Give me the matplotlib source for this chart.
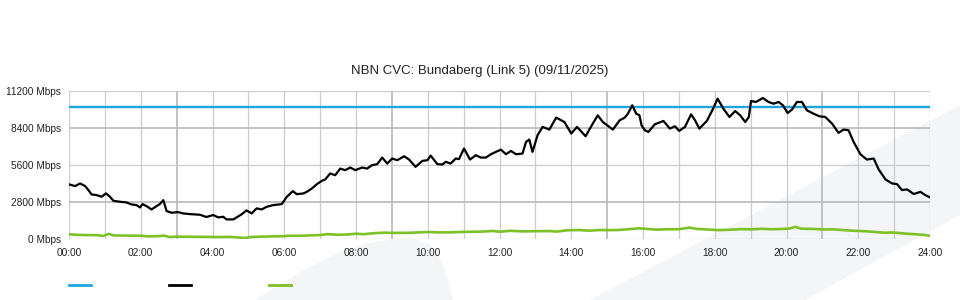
import matplotlib
matplotlib.use("Agg")
import matplotlib.pyplot as plt
from matplotlib.patches import Polygon
from matplotlib.lines import Line2D

plt.rcParams['font.family'] = ['Liberation Sans', 'DejaVu Sans']

# Data (hours since midnight, Mbps)
capacity_mbps = 10000

traffic_hours = [
    0.00, 0.17, 0.31, 0.45, 0.54, 0.63, 0.77, 0.91, 1.03, 1.14, 1.24, 1.42, 1.60, 1.74, 1.88,
    1.98, 2.05, 2.16, 2.30, 2.44, 2.53, 2.63, 2.72, 2.86, 3.04, 3.18, 3.37, 3.65, 3.83, 4.02,
    4.16, 4.30, 4.39, 4.58, 4.67, 4.81, 4.95, 5.09, 5.23, 5.37, 5.51, 5.70, 5.93, 6.07, 6.24,
    6.35, 6.54, 6.63, 6.77, 6.91, 7.05, 7.14, 7.28, 7.42, 7.56, 7.70, 7.84, 7.98, 8.17, 8.31,
    8.45, 8.59, 8.73, 8.87, 9.01, 9.15, 9.34, 9.48, 9.66, 9.85, 9.99, 10.08, 10.27, 10.41, 10.50,
    10.64, 10.78, 10.87, 11.01, 11.18, 11.34, 11.48, 11.62, 11.76, 11.90, 12.04, 12.18, 12.32,
    12.46, 12.64, 12.74, 12.83, 12.92, 13.06, 13.20, 13.39, 13.58, 13.81, 14.00, 14.16, 14.40,
    14.60, 14.74, 14.88, 15.16, 15.35, 15.49, 15.58, 15.70, 15.81, 15.90, 15.96, 16.05, 16.15,
    16.33, 16.57, 16.75, 16.89, 17.01, 17.17, 17.34, 17.45, 17.57, 17.78, 17.94, 18.08, 18.24,
    18.41, 18.57, 18.71, 18.85, 18.95, 19.01, 19.15, 19.34, 19.50, 19.64, 19.78, 19.90, 20.03,
    20.15, 20.29, 20.43, 20.57, 20.75, 20.92, 21.08, 21.27, 21.45, 21.59, 21.73, 21.87, 22.06,
    22.24, 22.43, 22.57, 22.76, 22.94, 23.08, 23.22, 23.36, 23.55, 23.73, 23.87, 24.00,
]
traffic_mbps = [
    4140, 4010, 4210, 4010, 3710, 3380, 3330, 3210, 3460, 3210, 2900, 2830, 2780, 2630, 2580,
    2400, 2650, 2500, 2250, 2500, 2650, 2950, 2130, 2000, 2050, 1950, 1900, 1850, 1680, 1830,
    1650, 1700, 1500, 1500, 1650, 1880, 2180, 1950, 2330, 2250, 2450, 2580, 2650, 3200, 3630,
    3400, 3460, 3580, 3830, 4160, 4410, 4510, 4960, 4830, 5330, 5210, 5410, 5210, 5410, 5330,
    5590, 5660, 6160, 5710, 6090, 5960, 6260, 6010, 5460, 5910, 5960, 6310, 5660, 5640, 5840,
    5710, 6090, 6040, 6840, 6010, 6340, 6160, 6160, 6410, 6590, 6760, 6410, 6660,
    6410, 6460, 7340, 7520, 6590, 7840, 8470, 8270, 9170, 8840, 7970, 8470, 7770,
    8720, 9340, 8840, 8270, 8970, 9170, 9470, 10100, 9470, 9350, 8590, 8220, 8090,
    8670, 8920, 8340, 8520, 8170, 8470, 9420, 8970, 8340, 8920, 9770, 10600, 9850,
    9220, 9670, 9340, 8840, 9220, 10420, 10350, 10650, 10350, 10220, 10350, 10100, 9520,
    9770, 10350, 10350, 9720, 9470, 9270, 9220, 8720, 8020, 8270, 8220, 7340, 6410,
    6010, 6090, 5260, 4510, 4210, 4160, 3710, 3760, 3410, 3580, 3330, 3160,
]

other_hours = [
    0.0, 0.25, 0.5, 0.8, 0.95, 1.1, 1.25, 1.6, 2.0, 2.2, 2.5, 2.65, 2.8, 3.0, 3.5, 3.8, 4.1,
    4.5, 4.9, 5.1, 5.5, 5.9, 6.1, 6.5, 7.0, 7.2, 7.5, 7.8, 8.0, 8.2, 8.5, 8.8, 9.0, 9.5, 10.0,
    10.3, 10.6, 11.0, 11.5, 11.8, 12.0, 12.3, 12.6, 13.0, 13.4, 13.6, 13.9, 14.2, 14.5, 14.8,
    15.0, 15.3, 15.6, 15.9, 16.1, 16.4, 16.7, 17.0, 17.3, 17.5, 17.8, 18.1, 18.4, 18.7, 19.0,
    19.3, 19.6, 19.9, 20.1, 20.25, 20.4, 20.8, 21.1, 21.3, 21.6, 21.9, 22.1, 22.4, 22.7, 23.0,
    23.3, 23.6, 23.8, 24.0,
]
other_mbps = [
    380, 330, 320, 310, 250, 410, 290, 280, 270, 220, 240, 280, 170, 200, 190, 180, 170,
    180, 100, 180, 210, 230, 260, 270, 320, 390, 340, 370, 420, 380, 460, 500, 480, 490, 550,
    520, 520, 560, 580, 630, 570, 640, 600, 610, 620, 580, 680, 700, 650, 700,
    690, 700, 760, 830, 780, 730, 760, 760, 880, 780, 740, 690, 720, 760, 750,
    790, 760, 780, 820, 940, 800, 780, 740, 750, 690, 640, 620, 570, 500, 510,
    430, 380, 340, 270,
]

x_ticks = list(range(0, 25, 2))
x_labels = [f"{h:02d}:00" for h in x_ticks]
y_ticks = [0, 2800, 5600, 8400, 11200]
y_labels = [f"{v} Mbps" for v in y_ticks]

BLUE = "#1ea6e0"
GREEN = "#7cc227"
SHAPE = "#f4f5f7"

fig = plt.figure(figsize=(9.6, 3.0), dpi=100)

# background watermark shapes (figure pixel coords)
def px(pts):
    return [(x / 960, 1 - y / 300) for x, y in pts]

fig.patches.append(Polygon(px([(255, 300), (300, 272), (340, 252), (370, 243), (395, 239),
                               (415, 239), (430, 244), (440, 258), (448, 280), (453, 300)]),
                           closed=True, transform=fig.transFigure, facecolor=SHAPE,
                           edgecolor="none", zorder=-5))
fig.patches.append(Polygon(px([(590, 300), (960, 105), (960, 215), (805, 300)]),
                           closed=True, transform=fig.transFigure, facecolor=SHAPE,
                           edgecolor="none", zorder=-5))

ax = fig.add_axes([69 / 960, 1 - 239.3 / 300, 861 / 960, 148.6 / 300])
ax.set_facecolor("none")
ax.set_zorder(1)

# grid: hourly verticals, darker every 6h from 03:00; horizontals with 2800/8400 darker
for h in range(25):
    dark = h % 6 == 3
    ax.axvline(h, color="#bdbdbd" if dark else "#cccccc", lw=1.3 if dark else 0.9, zorder=1)
for v in y_ticks:
    dark = v in (2800, 8400)
    ax.axhline(v, color="#bdbdbd" if dark else "#cccccc", lw=1.3 if dark else 0.9, zorder=1)

ax.plot([0, 24], [capacity_mbps, capacity_mbps], color=BLUE, lw=1.7, zorder=3)
ax.plot(other_hours, other_mbps, color=GREEN, lw=1.9, zorder=3)
ax.plot(traffic_hours, traffic_mbps, color="black", lw=1.6, zorder=4)

ax.set_xlim(0, 24)
ax.set_ylim(0, 11200)
ax.set_xticks(x_ticks)
ax.set_xticklabels(x_labels)
ax.set_yticks(y_ticks)
ax.set_yticklabels(y_labels)
ax.tick_params(length=0, labelsize=7.3, colors="#222222", pad=6)
for s in ax.spines.values():
    s.set_visible(False)

fig.text(0.5, 1 - 71 / 300, "NBN CVC: Bundaberg (Link 5) (09/11/2025)",
         ha="center", va="center", fontsize=9.5, color="#222222")

# legend swatches without labels
for x0, c in [(69, BLUE), (169, "black"), (269, GREEN)]:
    fig.lines.append(Line2D([x0 / 960, (x0 + 22) / 960], [1 - 285 / 300] * 2,
                            transform=fig.transFigure, color=c, lw=2))

fig.savefig("out.png", dpi=100)
